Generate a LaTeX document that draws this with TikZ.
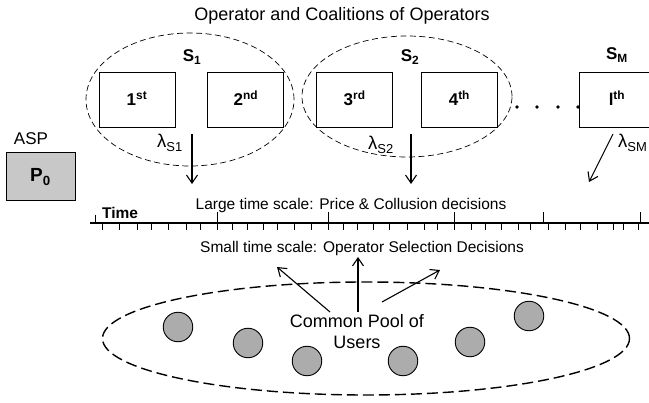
\documentclass[tikz,border=0pt]{standalone}
\usepackage{fontspec}
\setmainfont{Liberation Sans}
\usetikzlibrary{positioning,shapes.geometric,arrows.meta}

\definecolor{aspgray}{RGB}{200,200,200}
\definecolor{usergray}{RGB}{172,172,172}

\begin{document}
\begin{tikzpicture}[x=1pt,y=-1pt,
  opbox/.style={draw, rectangle, minimum width=76pt, minimum height=55pt, inner sep=0pt, line width=0.8pt,
    text height=12pt, text depth=0pt, font=\fontsize{17}{19}\selectfont\bfseries},
  coal/.style={draw, ellipse, dash pattern=on 6pt off 3.5pt, line width=0.7pt, inner sep=0pt},
  user/.style={draw, circle, fill=usergray, minimum size=29.5pt, inner sep=0pt, line width=0.9pt},
  slbl/.style={anchor=base, font=\fontsize{17}{19}\selectfont\bfseries},
  lam/.style={anchor=base west, inner sep=0pt, font=\fontsize{18.5}{20}\selectfont},
  scaletxt/.style={anchor=base, inner sep=0pt, font=\fontsize{15.5}{17}\selectfont},
  arr/.style={-{Straight Barb[length=8pt,width=11pt]}, line width=1.1pt},
  node distance=32pt]
   \useasboundingbox (0,0) rectangle (649,403);

   \node[anchor=base, font=\fontsize{18}{20}\selectfont] (title) at (342,21) {Operator and Coalitions of Operators} ; %

   % coalitions
   \node[coal, minimum width=208pt, minimum height=133pt] (C1) at (190,99.5) {} ; %
   \node[coal, minimum width=210pt, minimum height=121pt] (C2) at (407,96.5) {} ; %

   \node[opbox]                  (O1) at (137,99.5) {1\textsuperscript{st}} ; %
   \node[opbox, right=of O1]     (O2) {2\textsuperscript{nd}} ; %
   \node[opbox, right=of O2]     (O3) {3\textsuperscript{rd}} ; %
   \node[opbox, right=28pt of O3] (O4) {4\textsuperscript{th}} ; %
   \node[opbox]                  (Ol) at (617,99.5) {l\textsuperscript{th}} ; %

   \foreach \x in {517,537,558,578}
     \fill (\x,107) circle[radius=1.9pt] ;

   \node[slbl] (S1) at (192,62) {S\textsubscript{1}} ; %
   \node[slbl] (S2) at (410,62) {S\textsubscript{2}} ; %
   \node[slbl] (SM) at (617,60) {S\textsubscript{M}} ; %

   % ASP
   \node[anchor=base, font=\fontsize{17}{19}\selectfont] (asp) at (31,145) {ASP} ; %
   \node[draw, fill=aspgray, minimum width=69pt, minimum height=48pt, inner sep=0pt, line width=0.8pt,
     text height=12pt, text depth=0pt, font=\fontsize{19}{21}\selectfont\bfseries]
     (P0) at (40.5,176) {P\textsubscript{0}} ; %

   % rates
   \coordinate (r1s) at (192,134) ; \coordinate (r1e) at (192,184) ;
   \coordinate (r2s) at (411,134) ; \coordinate (r2e) at (411,184) ;
   \coordinate (rMs) at (613,134) ; \coordinate (rMe) at (589,182) ;
   \draw[arr] (r1s) -- (r1e) ;
   \draw[arr] (r2s) -- (r2e) ;
   \draw[arr] (rMs) -- (rMe) ;
   \node[lam] (l1) at (157,148) {λ\textsubscript{S1}} ; %
   \node[lam] (l2) at (368,150) {λ\textsubscript{S2}} ; %
   \node[lam] (lM) at (618,148) {λ\textsubscript{SM}} ; %

   % time axis
   \node[scaletxt] (large) at (351,210) {Large time scale: Price \& Collusion decisions} ; %
   \node[anchor=base west, inner sep=0pt, font=\fontsize{15.5}{17}\selectfont\bfseries] (time) at (102,219) {Time} ; %
   \coordinate (t0) at (90,223) ;
   \coordinate (t1) at (649,223) ;
   \draw[line width=1.6pt] (t0) -- (t1) ;
   \draw[line width=0.8pt] (95,215) -- (95,223) ;
   \foreach \x in {217,328,454,543,640}
     \draw[line width=0.8pt] (\x,212) -- (\x,223) ;
   \foreach \x in {102,119,137,151,168,186,200,217,232,247,263,277,294,311,328,343,357,
                   373,389,407,424,437,454,471,485,501,518,530,548,565,580,597,613,623,638}
     \draw[line width=0.8pt] (\x,223) -- (\x,230) ;
   \node[scaletxt] (small) at (362,253) {Small time scale: Operator Selection Decisions} ; %

   % users
   \node[draw, ellipse, dash pattern=on 11pt off 5pt, line width=1.4pt,
     minimum width=527pt, minimum height=113pt] (pool) at (366,338.5) {} ; %
   \foreach \x/\y [count=\i] in {178/327,248/343,307/361,403/361,470/342,529/316}
     \node[user] (u\i) at (\x,\y) {} ;
   \node[align=center, inner sep=0pt, font=\fontsize{18}{21}\selectfont] (cp) at (357,332) {Common Pool of\\Users} ; %

   \coordinate (p1s) at (330,312) ; \coordinate (p1e) at (277,267) ;
   \coordinate (p2s) at (358,312) ; \coordinate (p2e) at (358,257) ;
   \coordinate (p3s) at (382,302) ; \coordinate (p3e) at (440,270) ;
   \draw[arr] (p1s) -- (p1e) ;
   \draw[arr] (p2s) -- (p2e) ;
   \draw[arr] (p3s) -- (p3e) ;

\end{tikzpicture}
\end{document}
